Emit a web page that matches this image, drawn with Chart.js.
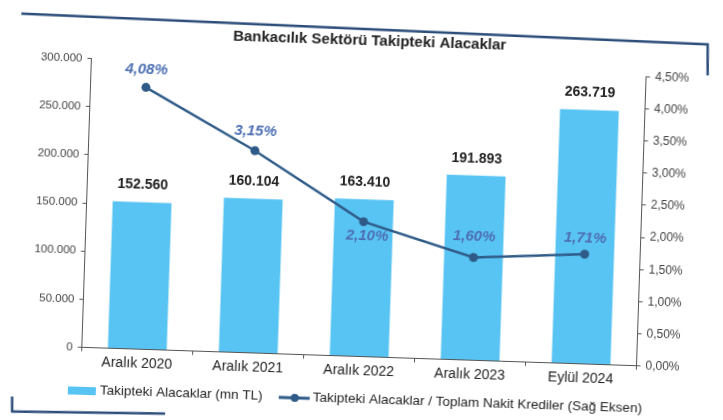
<!DOCTYPE html>
<html>
<head>
<meta charset="utf-8">
<script src="https://cdn.jsdelivr.net/npm/chart.js@4.4.1/dist/chart.umd.min.js"></script>
<style>
  html, body { margin: 0; padding: 0; background: #fff; }
  .wrap { position: relative; width: 723px; height: 420px; overflow: hidden; background: #fff; }
  /* the reference is a slightly tilted scan */
  #chart { position: absolute; left: -20px; top: -20px; transform: rotate(1.9deg); transform-origin: 50% 50%; }
</style>
</head>
<body>
<div class="wrap">
  <canvas id="chart" width="763" height="460"></canvas>
</div>
<script>
const categories = ['Aralık 2020', 'Aralık 2021', 'Aralık 2022', 'Aralık 2023', 'Eylül 2024'];
const nplAmount = [152560, 160104, 163410, 191893, 263719];
const nplRatio = [4.08, 3.15, 2.10, 1.60, 1.71];
const amountLabel = 'Takipteki Alacaklar (mn TL)';
const ratioLabel = 'Takipteki Alacaklar / Toplam Nakit Krediler (Sağ Eksen)';

const FONT = '"Liberation Sans", Arial, sans-serif';
const BAR_COLOR = '#58c4f3';
const LINE_COLOR = '#2f5b88';

const fmtThousands = v => String(v).replace(/\B(?=(\d{3})+(?!\d))/g, '.');
const fmtPct = v => v.toFixed(2).replace('.', ',') + '%';

// value labels, frame lines and legend
const decorPlugin = {
  id: 'decor',
  afterDatasetsDraw(chart) {
    const ctx = chart.ctx;
    ctx.save();
    ctx.textAlign = 'center';
    ctx.textBaseline = 'middle';

    // bar values
    ctx.font = 'bold 14px ' + FONT;
    ctx.fillStyle = '#222';
    chart.getDatasetMeta(0).data.forEach((bar, i) => {
      ctx.fillText(fmtThousands(nplAmount[i]), bar.x, bar.y - 17);
    });

    // ratio values
    const offs = [[0, -18], [0, -19], [4, 14], [0, -21], [0, -16]];
    ctx.font = 'italic bold 15px ' + FONT;
    ctx.fillStyle = '#4d6fb2';
    chart.getDatasetMeta(1).data.forEach((pt, i) => {
      ctx.fillText(fmtPct(nplRatio[i]), pt.x + offs[i][0], pt.y + offs[i][1]);
    });
    ctx.restore();
  },
  afterDraw(chart) {
    const ctx = chart.ctx;
    ctx.save();

    // frame pieces of the page
    ctx.strokeStyle = '#2c4d7a';
    ctx.lineWidth = 2.5;
    ctx.beginPath();
    ctx.moveTo(35, 45);
    ctx.lineTo(722, 53);
    ctx.lineTo(723, 84);
    ctx.stroke();
    ctx.beginPath();
    ctx.moveTo(38.5, 428);
    ctx.lineTo(39, 443);
    ctx.lineTo(192, 440);
    ctx.stroke();

    // legend
    const ly = 419;
    ctx.fillStyle = BAR_COLOR;
    ctx.fillRect(94, ly - 3, 28, 8);
    ctx.strokeStyle = LINE_COLOR;
    ctx.lineWidth = 3;
    ctx.beginPath();
    ctx.moveTo(305, ly + 1);
    ctx.lineTo(336, ly + 1);
    ctx.stroke();
    ctx.fillStyle = LINE_COLOR;
    ctx.beginPath();
    ctx.arc(321, ly + 1, 4, 0, Math.PI * 2);
    ctx.fill();

    ctx.font = '13.5px ' + FONT;
    ctx.fillStyle = '#222';
    ctx.textAlign = 'left';
    ctx.textBaseline = 'middle';
    ctx.fillText(amountLabel, 126, ly);
    ctx.fillText(ratioLabel, 339, ly);
    ctx.restore();
  }
};

new Chart(document.getElementById('chart'), {
  data: {
    labels: categories,
    datasets: [
      {
        type: 'bar',
        label: amountLabel,
        data: nplAmount,
        backgroundColor: BAR_COLOR,
        barPercentage: 0.53,
        categoryPercentage: 1,
        yAxisID: 'y',
        order: 2
      },
      {
        type: 'line',
        label: ratioLabel,
        data: nplRatio,
        borderColor: LINE_COLOR,
        backgroundColor: LINE_COLOR,
        borderWidth: 2.5,
        pointRadius: 4.5,
        pointBackgroundColor: LINE_COLOR,
        pointBorderWidth: 0,
        tension: 0,
        yAxisID: 'y1',
        order: 1
      }
    ]
  },
  options: {
    responsive: false,
    animation: false,
    layout: { padding: { left: 0, right: 41.5, top: 0, bottom: 53.5 } },
    plugins: {
      legend: { display: false },
      tooltip: { enabled: false },
      title: {
        display: true,
        fullSize: false,
        text: 'Bankacılık Sektörü Takipteki Alacaklar',
        color: '#222',
        font: { family: FONT, size: 15, weight: 'bold' },
        padding: { top: 52, bottom: 17.6 }
      }
    },
    scales: {
      x: {
        grid: { drawOnChartArea: false, drawTicks: true, tickLength: 4, color: '#555' },
        border: { display: true, color: '#555', width: 1 },
        ticks: { color: '#222', padding: 2, font: { family: FONT, size: 14 } },
        afterFit: s => { s.height = 30; }
      },
      y: {
        position: 'left',
        min: 0,
        max: 300000,
        grid: { drawOnChartArea: false, drawTicks: true, tickLength: 4, color: '#555' },
        border: { display: true, color: '#555', width: 1 },
        ticks: {
          stepSize: 50000,
          color: '#444',
          padding: 5,
          font: { family: FONT, size: 11.5 },
          callback: v => fmtThousands(v)
        },
        afterFit: s => { s.width = 106.5; }
      },
      y1: {
        position: 'right',
        min: 0,
        max: 4.5,
        grid: { drawOnChartArea: false, drawTicks: true, tickLength: 4, color: '#555' },
        border: { display: true, color: '#555', width: 1 },
        ticks: {
          stepSize: 0.5,
          color: '#444',
          padding: 5,
          font: { family: FONT, size: 12 },
          callback: v => fmtPct(v)
        },
        afterFit: s => { s.width = 60; }
      }
    }
  },
  plugins: [decorPlugin]
});
</script>
</body>
</html>
